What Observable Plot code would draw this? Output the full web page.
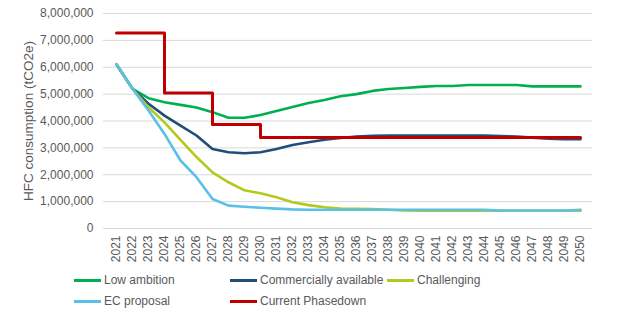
<!DOCTYPE html>
<html>
<head>
<meta charset="utf-8">
<script src="https://cdn.jsdelivr.net/npm/d3@7"></script>
<script src="https://cdn.jsdelivr.net/npm/@observablehq/plot@0.6"></script>
<style>
  html, body { margin: 0; padding: 0; background: #fff; }
  body { width: 618px; height: 321px; overflow: hidden; font-family: "Liberation Sans", Arial, sans-serif; }
  #legend { display: grid; grid-template-columns: 156px 157px 150px; row-gap: 5px; padding-left: 74px; margin-top: 2px; font-size: 12px; color: #595959; }
  .item { display: flex; align-items: center; height: 16px; white-space: nowrap; }
  .sw { width: 27px; height: 3px; margin-right: 3px; flex: none; }
</style>
</head>
<body>
<div id="chart"></div>
<div id="legend"></div>
<script>
const years = d3.range(2021, 2051);
const seriesNames = ["Low ambition", "Commercially available", "Challenging", "EC proposal", "Current Phasedown"];
const seriesColors = ["#00B050", "#1F4E79", "#B4C81E", "#5BC0E8", "#C00000"];
const lowAmbition = [6.10,5.20,4.85,4.70,4.60,4.50,4.33,4.12,4.12,4.22,4.37,4.52,4.67,4.78,4.92,5.00,5.12,5.19,5.23,5.27,5.30,5.30,5.34,5.34,5.34,5.34,5.29,5.29,5.29,5.29];
const commercial = [6.10,5.20,4.64,4.20,3.83,3.46,2.96,2.84,2.80,2.84,2.96,3.11,3.21,3.30,3.37,3.42,3.45,3.46,3.46,3.46,3.46,3.46,3.46,3.46,3.44,3.42,3.38,3.34,3.32,3.32];
const challenging = [6.10,5.20,4.51,3.95,3.30,2.66,2.09,1.72,1.42,1.31,1.16,0.98,0.87,0.79,0.74,0.73,0.72,0.70,0.67,0.66,0.66,0.66,0.66,0.66,0.66,0.66,0.66,0.66,0.66,0.66];
const ecProposal = [6.10,5.20,4.39,3.52,2.53,1.91,1.10,0.85,0.81,0.77,0.74,0.71,0.70,0.70,0.70,0.70,0.70,0.70,0.70,0.70,0.70,0.70,0.70,0.70,0.67,0.67,0.67,0.67,0.67,0.70];
const phasedown = [7.27,7.27,7.27,5.04,5.04,5.04,3.87,3.87,3.87,3.39,3.39,3.39,3.39,3.39,3.39,3.39,3.39,3.39,3.39,3.39,3.39,3.39,3.39,3.39,3.39,3.39,3.39,3.39,3.39,3.39];
const yTicks = d3.range(0, 8000001, 1000000);

const allSeries = [lowAmbition, commercial, challenging, ecProposal, phasedown];
const rows = [];
allSeries.forEach((vals, i) => {
  vals.forEach((v, j) => rows.push({series: seriesNames[i], year: String(years[j]), value: v * 1e6}));
});

const lineMarks = seriesNames.map((name, i) =>
  Plot.line(rows.filter(d => d.series === name), {
    x: "year", y: "value",
    stroke: seriesColors[i],
    strokeWidth: i === 4 ? 3 : 2.6,
    curve: i === 4 ? "step-after" : "linear",
    strokeLinejoin: "round"
  })
);

const chart = Plot.plot({
  width: 618,
  height: 270,
  marginLeft: 103,
  marginRight: 26,
  marginTop: 13,
  marginBottom: 42,
  style: {fontFamily: "'Liberation Sans', Arial, sans-serif", fontSize: "12px", color: "#595959", background: "#fff"},
  x: {type: "point", domain: years.map(String), padding: 0.5},
  y: {domain: [0, 8000000]},
  marks: [
    Plot.ruleY(yTicks, {stroke: "#d9d9d9", strokeWidth: 1}),
    Plot.axisY({ticks: yTicks, tickFormat: d3.format(","), tickSize: 0, tickPadding: 10,
      label: null, fontSize: 12}),
    Plot.axisY({ticks: [], label: "HFC consumption (tCO2e)", labelAnchor: "center", labelArrow: "none", labelOffset: 80,
      fontSize: 13.5}),
    Plot.axisX({tickRotate: -90, tickSize: 0, tickPadding: 7, label: null, fontSize: 12}),
    ...lineMarks
  ]
});
document.getElementById("chart").appendChild(chart);

const legend = document.getElementById("legend");
seriesNames.forEach((name, i) => {
  const item = document.createElement("div");
  item.className = "item";
  if (i === 3) item.style.gridColumn = "1";
  const sw = document.createElement("span");
  sw.className = "sw";
  sw.style.background = seriesColors[i];
  const t = document.createElement("span");
  t.textContent = name;
  item.appendChild(sw); item.appendChild(t);
  legend.appendChild(item);
});
</script>
</body>
</html>
